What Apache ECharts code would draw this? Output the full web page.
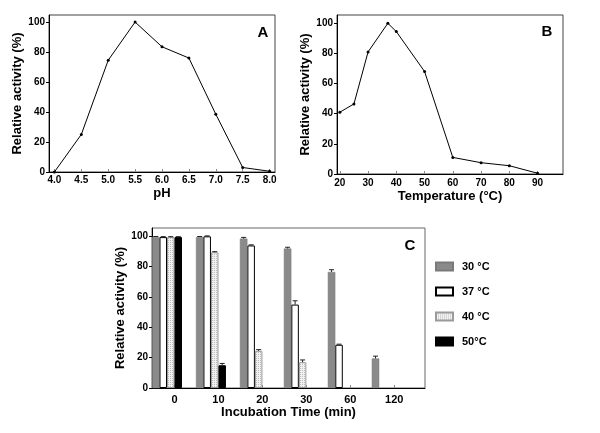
<!DOCTYPE html>
<html><head><meta charset="utf-8">
<script src="https://cdn.jsdelivr.net/npm/echarts@6/dist/echarts.min.js"></script>
<style>html,body{margin:0;padding:0;background:#fff}#c{width:600px;height:433px}</style>
</head><body><div id="c"></div>
<script>
// ---- Data ----
const phX = [4.0, 4.5, 5.0, 5.5, 6.0, 6.5, 7.0, 7.5, 8.0];
const phY = [0, 25, 74.5, 100, 83.5, 76, 38.5, 3, 0.5];
const tempX = [20, 25, 30, 37, 40, 50, 60, 70, 80, 90];
const tempY = [41, 46.5, 81, 100, 94.5, 68, 11, 7.5, 5.5, 0.5];
const phTicks = [4.0, 4.5, 5.0, 5.5, 6.0, 6.5, 7.0, 7.5, 8.0];
const tempTicks = [20, 30, 40, 50, 60, 70, 80, 90];
const yTicks = [0, 20, 40, 60, 80, 100];
const timeCats = ['0', '10', '20', '30', '60', '120'];
const tempNames = ['30 °C', '37 °C', '40 °C', '50°C'];
const act30 = [99.5, 99.5, 98.5, 92, 76.5, 19.5];
const act37 = [99.5, 100, 94, 55, 28.5, 0];
const act40 = [99.5, 89.5, 24.5, 17, 0, 0];
const act50 = [99.5, 15, 0, 0, 0, 0];
const err30 = [0.4, 0.4, 0.8, 0.8, 1.5, 1.5];
const err37 = [0.3, 0.3, 0.4, 2.5, 0.4, 0];
const err40 = [0.3, 0.4, 0.8, 1.5, 0, 0];
const err50 = [0.3, 1.2, 0, 0, 0, 0];

const FONT = "'Liberation Sans', Arial, sans-serif";
const BAR_W = 7.5;

// dotted pattern for 40 °C
const pc = document.createElement('canvas');
pc.width = 2; pc.height = 2;
const pctx = pc.getContext('2d');
pctx.fillStyle = '#f2f2f2'; pctx.fillRect(0, 0, 2, 2);
pctx.fillStyle = '#bdbdbd'; pctx.fillRect(0, 0, 1, 1);

const barStyles = [
  { color: '#8a8a8a', borderColor: '#7a7a7a', borderWidth: 0.5 },
  { color: '#ffffff', borderColor: '#000', borderWidth: 1 },
  { color: { image: pc, repeat: 'repeat' }, borderColor: '#9a9a9a', borderWidth: 1 },
  { color: '#000000', borderColor: '#000', borderWidth: 1 }
];
const acts = [act30, act37, act40, act50];
const errs = [err30, err37, err40, err50];

const labelStyle = { color: '#000', fontWeight: 'bold', fontFamily: FONT, fontSize: 10 };
const nameStyle = { color: '#000', fontWeight: 'bold', fontFamily: FONT, fontSize: 13 };

function yAx(grid, max) {
  return {
    type: 'value', gridIndex: grid, min: 0, max: max,
    axisLine: { show: true, onZero: false, lineStyle: { color: '#000', width: 1 } },
    axisTick: { show: true, customValues: yTicks, length: 3, lineStyle: { color: '#000' } },
    axisLabel: { customValues: yTicks, margin: 4, ...labelStyle },
    splitLine: { show: false },
    name: 'Relative activity (%)', nameLocation: 'middle', nameGap: 25, nameRotate: 90,
    nameTextStyle: nameStyle
  };
}

const chart = echarts.init(document.getElementById('c'), null, { renderer: 'canvas' });

const series = [
  {
    type: 'line', xAxisIndex: 0, yAxisIndex: 0,
    data: phX.map((x, i) => [x, phY[i]]),
    symbol: 'circle', symbolSize: 3, showSymbol: true,
    lineStyle: { color: '#000', width: 1 }, itemStyle: { color: '#000' }, silent: true
  },
  {
    type: 'line', xAxisIndex: 1, yAxisIndex: 1,
    data: tempX.map((x, i) => [x, tempY[i]]),
    symbol: 'circle', symbolSize: 3, showSymbol: true,
    lineStyle: { color: '#000', width: 1 }, itemStyle: { color: '#000' }, silent: true
  }
];

tempNames.forEach((n, k) => {
  series.push({
    type: 'bar', name: n, xAxisIndex: 3, yAxisIndex: 2,
    // zero-activity bars are not drawn (no visible bar in the original)
    data: timeCats.map((c, i) => [i, acts[k][i] === 0 ? '-' : acts[k][i]]),
    barWidth: BAR_W, barGap: '0%',
    itemStyle: barStyles[k], silent: true
  });
});
tempNames.forEach((n, k) => {
  series.push({
    type: 'custom', name: 'err' + k, xAxisIndex: 3, yAxisIndex: 2, z: 5,
    data: timeCats.map((c, i) => [i, acts[k][i], errs[k][i]]),
    renderItem: function (params, api) {
      const e = api.value(2);
      if (!e) return null;
      const b = api.coord([api.value(0), api.value(1)]);
      const t = api.coord([api.value(0), api.value(1) + e]);
      const x = b[0] + (k - 1.5) * BAR_W;
      return {
        type: 'group', children: [
          { type: 'line', shape: { x1: x, y1: b[1], x2: x, y2: t[1] }, style: { stroke: '#222', lineWidth: 1 } },
          { type: 'line', shape: { x1: x - 2.5, y1: t[1], x2: x + 2.5, y2: t[1] }, style: { stroke: '#222', lineWidth: 1 } }
        ]
      };
    },
    silent: true
  });
});

const option = {
  animation: false,
  backgroundColor: '#fff',
  grid: [
    { left: 49, top: 15, width: 226, height: 157, show: true, borderColor: '#444', borderWidth: 1, containLabel: false },
    { left: 337, top: 15, width: 226, height: 159, show: true, borderColor: '#444', borderWidth: 1, containLabel: false },
    { left: 152, top: 228, width: 273, height: 160, show: true, borderColor: '#666', borderWidth: 1, containLabel: false }
  ],
  xAxis: [
    {
      type: 'value', gridIndex: 0, min: 3.9, max: 8.1,
      axisLine: { onZero: false, lineStyle: { color: '#000' } },
      axisTick: { customValues: phTicks, inside: true, length: 3, lineStyle: { color: '#888' } },
      axisLabel: { customValues: phTicks, margin: 3, formatter: v => v.toFixed(1), ...labelStyle },
      splitLine: { show: false },
      name: 'pH', nameLocation: 'middle', nameGap: 15, nameTextStyle: nameStyle
    },
    {
      type: 'value', gridIndex: 1, min: 19, max: 99,
      axisLine: { onZero: false, lineStyle: { color: '#000' } },
      axisTick: { customValues: tempTicks, inside: true, length: 3, lineStyle: { color: '#888' } },
      axisLabel: { customValues: tempTicks, margin: 4, ...labelStyle },
      splitLine: { show: false },
      name: 'Temperature (°C)', nameLocation: 'middle', nameGap: 16, nameTextStyle: nameStyle
    },
    {
      type: 'value', gridIndex: 2, min: -0.511, max: 5.70,
      axisLine: { onZero: false, lineStyle: { color: '#000' } },
      axisTick: { customValues: timeCats.map((c, i) => i), inside: true, length: 3, lineStyle: { color: '#888' } },
      axisLabel: { customValues: timeCats.map((c, i) => i), margin: 6, formatter: v => timeCats[Math.round(v)], ...labelStyle, fontSize: 11 },
      splitLine: { show: false },
      name: 'Incubation Time (min)', nameLocation: 'middle', nameGap: 18, nameTextStyle: nameStyle
    },
    {
      type: 'value', gridIndex: 2, min: -0.341, max: 5.87, show: false,
      axisLine: { onZero: false },
      splitLine: { show: false }
    }
  ],
  yAxis: [yAx(0, 104.7), yAx(1, 105.5), yAx(2, 105.5)],
  legend: {
    data: tempNames, orient: 'vertical', left: 435, top: 261, icon: 'rect', padding: 0,
    itemWidth: 17, itemHeight: 8, itemGap: 14, selectedMode: false,
    textStyle: { color: '#000', fontWeight: 'bold', fontFamily: FONT, fontSize: 11, padding: [0, 0, 0, 4] }
  },
  graphic: [
    { type: 'text', x: 263, y: 33, style: { text: 'A', font: 'bold 15px ' + FONT, fill: '#000', align: 'center', verticalAlign: 'middle', textAlign: 'center', textVerticalAlign: 'middle' } },
    { type: 'text', x: 547, y: 32, style: { text: 'B', font: 'bold 15px ' + FONT, fill: '#000', align: 'center', verticalAlign: 'middle', textAlign: 'center', textVerticalAlign: 'middle' } },
    { type: 'text', x: 410, y: 246, style: { text: 'C', font: 'bold 15px ' + FONT, fill: '#000', align: 'center', verticalAlign: 'middle', textAlign: 'center', textVerticalAlign: 'middle' } }
  ],
  series: series
};
chart.setOption(option);
</script></body></html>
